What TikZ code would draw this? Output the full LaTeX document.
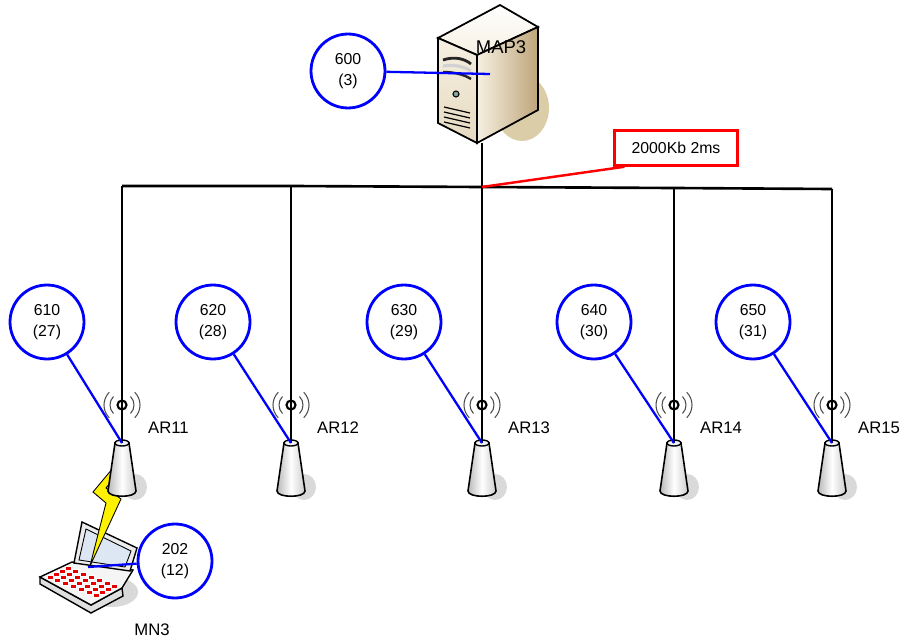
\documentclass[tikz,border=0pt]{standalone}
\usepackage{fontspec}
\setmainfont{Liberation Sans}
\usetikzlibrary{positioning}

\definecolor{serverlight}{HTML}{F6F0E2}
\definecolor{serverface}{HTML}{E6DAC0}
\definecolor{serverdark}{HTML}{BFA57A}
\definecolor{servershadow}{HTML}{DACDA8}
\definecolor{screenblue}{HTML}{DDE6F3}

\tikzset{
  tag/.style={circle, draw=blue, line width=1.6pt, fill=white, minimum size=1.48cm,
    inner sep=0pt, align=center, font=\fontsize{9}{12}\selectfont},
  pinline/.style={blue, line width=1.3pt},
  wire/.style={black, line width=1.5pt},
  arlabel/.style={anchor=west, font=\fontsize{9.5}{11}\selectfont},
  delaybox/.style={draw=red, line width=1.4pt, fill=white, minimum width=2.46cm,
    minimum height=0.7cm, font=\fontsize{9}{11}\selectfont},
  key/.style={fill=red!90!black, draw=white, line width=0.4pt},
  tower/.pic={
    \fill[black!15] (13,44) ellipse [x radius=12, y radius=13];
    \draw[line width=0.9pt, left color=gray!55, right color=gray!40, middle color=white]
      (-7,0) -- (-14,48) .. controls (-14,55) and (14,55) .. (14,48) -- (7,0) -- cycle;
    \draw[line width=0.8pt, fill=gray!10] (0,0) ellipse [x radius=7, y radius=3];
  },
  aerial/.pic={
    \draw[line width=1.2pt] (0,0) circle [radius=4.5];
    \foreach \r in {12,18}{
      \draw[black!70, line width=0.6pt] (0,0) ++(135:\r) arc [start angle=135, end angle=225, radius=\r];
      \draw[black!70, line width=0.6pt] (0,0) ++(-45:\r) arc [start angle=-45, end angle=45, radius=\r];
    }
  }
}

\begin{document}
\begin{tikzpicture}[x=0.02cm, y=-0.02cm]
  \useasboundingbox (0,0) rectangle (910,642);

  % bus and drop points
  \coordinate (b11) at (122,186);
  \coordinate (b12) at (291,186);
  \coordinate (hub) at (482,187);
  \coordinate (b14) at (674,188);
  \coordinate (b15) at (832,189);
  \coordinate (ar11) at (122,443);
  \coordinate (ar12) at (291,443);
  \coordinate (ar13) at (482,443);
  \coordinate (ar14) at (674,443);
  \coordinate (ar15) at (832,443);
  \coordinate (mapbase) at (482,143);
  \coordinate (mapport) at (490,74);
  \coordinate (screen) at (88,567);

  % laptop
  \fill[black!15] (112,592) ellipse [x radius=26, y radius=15];
  \draw[line width=0.8pt, fill=gray!25] (40,577) -- (40,584) -- (91,613) -- (123,596) -- (122,588) -- (91,605) -- cycle;
  \draw[line width=0.8pt, fill=gray!8] (40,577) -- (72,562) -- (133,570) -- (122,588) -- (91,605) -- cycle;
  \foreach \i in {0,...,6}
    \foreach \j in {0,...,3}
      \filldraw[key] ({47+7.8*\i+6*\j},{575+3*\i-3*\j}) rectangle ++(6,4.5);
  \draw[line width=0.8pt, fill=gray!15] (74,563) -- (82,522) -- (137,548) -- (130,571) -- cycle;
  \draw[line width=0.5pt, fill=screenblue] (79,560) -- (86,529) -- (131,551) -- (125,567) -- cycle;

  % lightning
  \draw[line width=0.5pt, fill=yellow] (118,462) -- (127,462) -- (106,488) -- (121,499)
    -- (90,566) -- (106,503) -- (93,492) -- cycle;

  % access routers
  \pic at (ar11) {tower};
  \pic at (ar12) {tower};
  \pic at (ar13) {tower};
  \pic at (ar14) {tower};
  \pic at (ar15) {tower};

  \draw[wire] (b11) -- (b12) -- (hub) -- (b14) -- (b15);
  \draw[wire] (b11) -- (ar11);
  \draw[wire] (b12) -- (ar12);
  \draw[wire] (hub) -- (ar13);
  \draw[wire] (b14) -- (ar14);
  \draw[wire] (b15) -- (ar15);
  \draw[wire] (mapbase) -- (hub);

  \pic at (122,405) {aerial};
  \pic at (291,405) {aerial};
  \pic at (482,405) {aerial};
  \pic at (674,405) {aerial};
  \pic at (832,405) {aerial};

  \node[arlabel] (l11) at (142,428) {AR11};
  \node[arlabel] (l12) at (311,428) {AR12};
  \node[arlabel] (l13) at (502,428) {AR13};
  \node[arlabel] (l14) at (694,428) {AR14};
  \node[arlabel] (l15) at (852,428) {AR15};
  \node[font=\fontsize{9.5}{11}\selectfont] (mn3) at (152,630) {MN3};

  % server
  \fill[servershadow] (522,108) ellipse [x radius=27, y radius=33];
  \draw[line width=1pt, top color=white, bottom color=serverlight] (438,38) -- (500,5) -- (538,27) -- (477,55) -- cycle;
  \draw[line width=1pt, top color=serverlight, bottom color=serverface] (438,38) -- (477,55) -- (477,143) -- (438,123) -- cycle;
  \draw[line width=1pt, left color=serverlight, right color=serverdark] (477,55) -- (538,27) -- (538,110) -- (477,143) -- cycle;
  \draw[line width=1.6pt, black!85] (443,60) .. controls (455,56) and (465,59) .. (471,64);
  \draw[line width=1.8pt, gray!35] (443,66) .. controls (455,64) and (465,67) .. (471,71);
  \draw[line width=1.4pt, black!85] (443,72) .. controls (455,72) and (465,75) .. (471,79);
  \draw[line width=0.6pt, fill=teal!40!gray!70] (456,94) circle [radius=3];
  \foreach \k in {0,...,3}
    \draw[line width=0.7pt] (444,{107+5*\k}) -- (470,{113+5*\k});
  \node[font=\fontsize{10.5}{12}\selectfont] (map3) at (501,47) {MAP3};

  % link delay
  \node[delaybox] (delay) at (676,148) {2000Kb 2ms};
  \draw[red, line width=1.4pt] (hub) -- (delay.200);

  % address tags
  \begin{scope}[every node/.style=tag]
    \node (t600) at (348,71) {600\\(3)};
    \node (t610) at (47,322) {610\\(27)};
    \node (t620) at (213,322) {620\\(28)};
    \node (t630) at (404,322) {630\\(29)};
    \node (t640) at (594,322) {640\\(30)};
    \node (t650) at (753,322) {650\\(31)};
    \node (t202) at (175,561) {202\\(12)};
  \end{scope}

  \draw[pinline] (t600) -- (mapport);
  \draw[pinline] (t610) -- (ar11);
  \draw[pinline] (t620) -- (ar12);
  \draw[pinline] (t630) -- (ar13);
  \draw[pinline] (t640) -- (ar14);
  \draw[pinline] (t650) -- (ar15);
  \draw[pinline] (t202) -- (screen);
\end{tikzpicture}
\end{document}
